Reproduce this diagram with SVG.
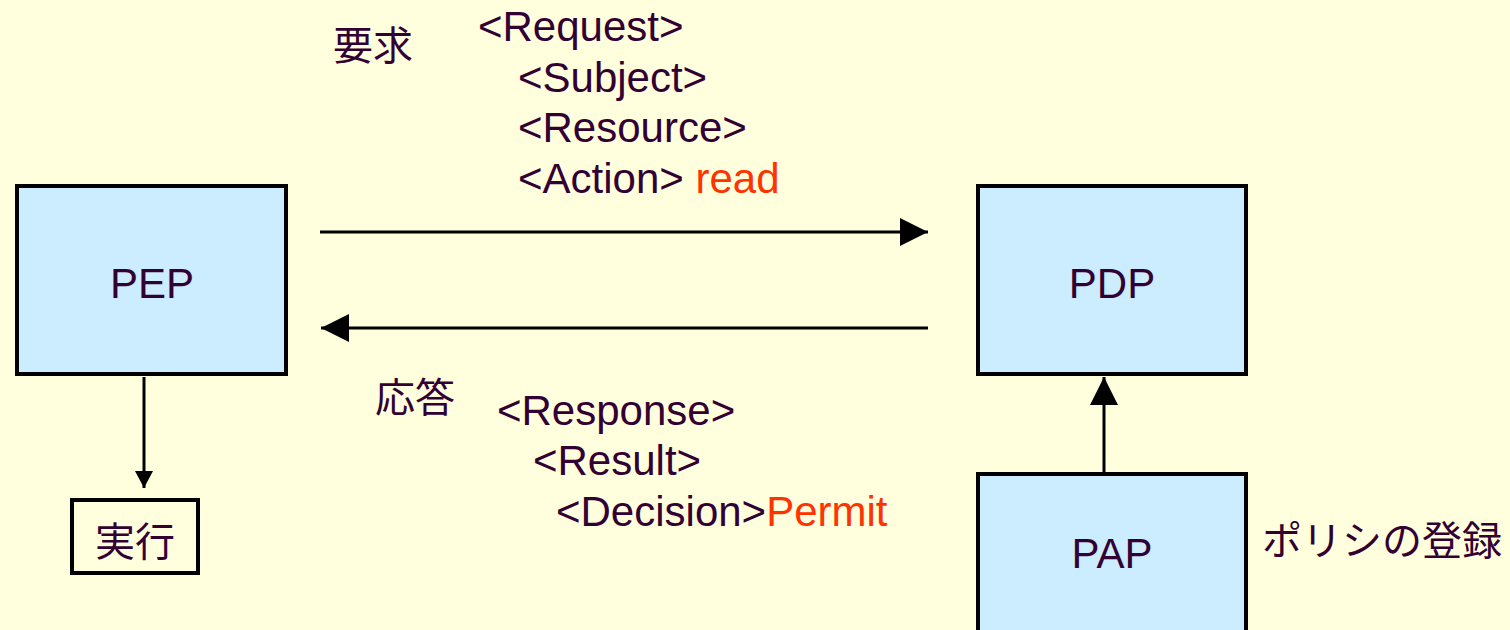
<svg xmlns="http://www.w3.org/2000/svg" width="1510" height="630" viewBox="0 0 1510 630">
  <defs>
    <style>
      .box { fill: #CCECFF; stroke: #000000; stroke-width: 4; }
      .plain { fill: #FFFFDD; stroke: #000000; stroke-width: 4; }
      .t { font-family: "Liberation Sans", Arial, "Noto Sans CJK JP", sans-serif; font-size: 42px; fill: #330033; }
      .j { font-family: "Noto Sans CJK JP", "Liberation Sans", sans-serif; font-size: 40px; fill: #330033; }
      .red { fill: #FF3300; }
      .conn { stroke: #000000; stroke-width: 3; fill: none; }
    </style>
    <marker id="big" markerUnits="userSpaceOnUse" markerWidth="28" markerHeight="28" viewBox="0 0 26 26" refX="26" refY="13" orient="auto">
      <path d="M0,0 L26,13 L0,26 Z" fill="#000"/>
    </marker>
    <marker id="small" markerUnits="userSpaceOnUse" markerWidth="18" markerHeight="18" viewBox="0 0 16 17" refX="16" refY="8.5" orient="auto">
      <path d="M0,0 L16,8.5 L0,17 Z" fill="#000"/>
    </marker>
  </defs>
  <rect x="0" y="0" width="1510" height="630" fill="#FFFFDD"/>

  <g id="connectors">
    <line class="conn" x1="320" y1="232" x2="928" y2="232" marker-end="url(#big)"/>
    <line class="conn" x1="928" y1="328" x2="321" y2="328" marker-end="url(#big)"/>
    <line class="conn" x1="144" y1="377" x2="144" y2="488" marker-end="url(#small)"/>
    <line class="conn" x1="1104" y1="472" x2="1104" y2="377" marker-end="url(#big)"/>
  </g>

  <g id="PEP">
    <rect class="box" x="17" y="186" width="269" height="188"/>
    <text class="t" x="152" y="298" text-anchor="middle">PEP</text>
  </g>
  <g id="PDP">
    <rect class="box" x="978" y="186" width="268" height="188"/>
    <text class="t" x="1112" y="298" text-anchor="middle">PDP</text>
  </g>
  <g id="PAP">
    <rect class="box" x="978" y="474" width="268" height="180"/>
    <text class="t" x="1112" y="568" text-anchor="middle">PAP</text>
  </g>
  <g id="exec">
    <rect class="plain" x="72" y="500" width="126" height="73"/>
    <text class="j" x="135" y="556" text-anchor="middle">実行</text>
  </g>

  <g id="request-label">
    <text class="j" x="333" y="60">要求</text>
    <text class="t" x="478" y="41">&lt;Request&gt;</text>
    <text class="t" x="518" y="92">&lt;Subject&gt;</text>
    <text class="t" x="518" y="142">&lt;Resource&gt;</text>
    <text class="t" x="518" y="193">&lt;Action&gt; <tspan class="red">read</tspan></text>
  </g>
  <g id="response-label">
    <text class="j" x="375" y="412">応答</text>
    <text class="t" x="497" y="425">&lt;Response&gt;</text>
    <text class="t" x="533" y="475">&lt;Result&gt;</text>
    <text class="t" x="556" y="526">&lt;Decision&gt;<tspan class="red">Permit</tspan></text>
  </g>
  <g id="pap-label">
    <text class="j" x="1262" y="555">ポリシの登録</text>
  </g>
</svg>
